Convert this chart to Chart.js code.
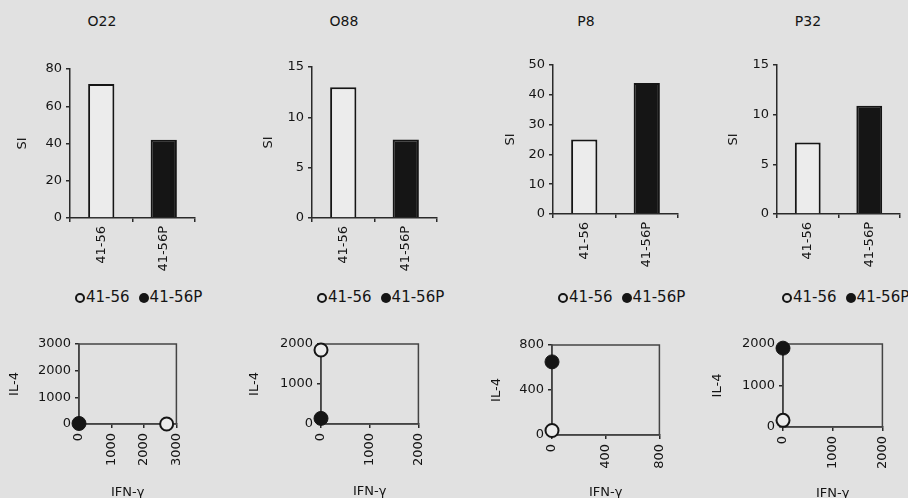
<!DOCTYPE html>
<html>
<head>
<meta charset="utf-8">
<script src="https://cdn.jsdelivr.net/npm/chart.js@4.4.1/dist/chart.umd.min.js"></script>
<style>
  body { margin: 0; width: 908px; height: 498px; background: #e1e1e1; position: relative; overflow: hidden; font-family: 'DejaVu Sans', sans-serif; color: #151515; }
  canvas { position: absolute; }
  .title { position: absolute; font-size: 14px; transform: translate(-50%, -50%); }
  .legend { position: absolute; font-size: 15px; line-height: 18px; white-space: nowrap; }
  .legend-item { display: inline-block; margin-right: 9px; }
  .color-box { display: inline-block; width: 10px; height: 10px; border-radius: 50%; box-sizing: border-box; vertical-align: -1px; margin-right: 1px; }
</style>
</head>
<body>
<script>
// values
const panels = ['O22', 'O88', 'P8', 'P32'];
const categories = ['41-56', '41-56P'];
const si_41_56 = [72, 13, 25, 7.2];
const si_41_56P = [42, 7.8, 44, 10.9];
const siMax = [80, 15, 50, 15];
const siStep = [20, 5, 10, 5];

const ifn_41_56 = [2700, 0, 0, 0];
const il4_41_56 = [0, 1850, 40, 160];
const ifn_41_56P = [0, 0, 0, 0];
const il4_41_56P = [20, 140, 650, 1900];
const cytoMax = [3000, 2000, 800, 2000];
const cytoStep = [1000, 1000, 400, 1000];

const INK = '#151515';
const AXIS = '#2a2a2a';
const OPEN_FILL = '#ececec';

// where each panel sits on the page (chart area edges in px)
const barBoxes = [
  { left: 15,  axis: 70,  top: 69, right: 195, bottom: 218, tx: 102, ty: 21 },
  { left: 261, axis: 312, top: 67, right: 437, bottom: 218, tx: 344, ty: 21 },
  { left: 503, axis: 553, top: 65, right: 678, bottom: 214, tx: 586, ty: 21 },
  { left: 726, axis: 777, top: 65, right: 900, bottom: 214, tx: 808, ty: 21 }
];
const scatterBoxes = [
  { left: 7,   axis: 79,  top: 344, right: 185, bottom: 424, titleY: 492 },
  { left: 247, axis: 321, top: 344, right: 427, bottom: 424, titleY: 491 },
  { left: 489, axis: 552, top: 345, right: 668, bottom: 435, titleY: 492 },
  { left: 710, axis: 783, top: 344, right: 891, bottom: 427, titleY: 493 }
];

Chart.defaults.font.family = "'DejaVu Sans', sans-serif";
Chart.defaults.font.size = 13;
Chart.defaults.color = INK;

const makeCanvas = (left, top, width, height) => {
  const c = document.createElement('canvas');
  c.width = width;
  c.height = height;
  c.style.left = left + 'px';
  c.style.top = top + 'px';
  document.body.appendChild(c);
  return c.getContext('2d');
};

const addDiv = (cls, left, top, html) => {
  const d = document.createElement('div');
  d.className = cls;
  d.style.left = left + 'px';
  d.style.top = top + 'px';
  d.innerHTML = html;
  document.body.appendChild(d);
};

// box round the scatter plot area
const frame = {
  id: 'frame',
  beforeDatasetsDraw(chart) {
    const { ctx, chartArea: a } = chart;
    ctx.save();
    ctx.strokeStyle = '#444';
    ctx.lineWidth = 1.5;
    ctx.strokeRect(a.left, a.top, a.right - a.left, a.bottom - a.top);
    ctx.restore();
  }
};

const tickGrid = { drawOnChartArea: false, tickLength: 4, color: AXIS, lineWidth: 1.5 };
const plain = { useGrouping: false };

panels.forEach((name, i) => {
  const b = barBoxes[i];
  const cTop = b.top - 14;
  const cRight = Math.min(b.right + 10, 908);
  const ctx = makeCanvas(b.left, cTop, cRight - b.left, b.bottom + 60 - cTop);

  new Chart(ctx, {
    type: 'bar',
    data: {
      labels: categories,
      datasets: [{
        data: [si_41_56[i], si_41_56P[i]],
        backgroundColor: [OPEN_FILL, INK],
        borderColor: INK,
        borderWidth: 2,
        barPercentage: 0.42,
        categoryPercentage: 1
      }]
    },
    options: {
      responsive: false,
      animation: false,
      devicePixelRatio: 1,
      layout: { padding: { top: 14, right: cRight - b.right, left: 0, bottom: 0 } },
      plugins: { legend: { display: false }, tooltip: { enabled: false } },
      scales: {
        x: {
          offset: true,
          grid: { ...tickGrid, offset: true },
          border: { color: AXIS, width: 1.5 },
          ticks: { minRotation: 90, maxRotation: 90, padding: 4, autoSkip: false },
          afterFit: s => { s.height = 60; }
        },
        y: {
          min: 0,
          max: siMax[i],
          grid: tickGrid,
          border: { color: AXIS, width: 1.5 },
          ticks: { stepSize: siStep[i], padding: 4, format: plain },
          title: { display: true, text: 'SI', padding: 0 },
          afterFit: s => { s.width = b.axis - b.left; }
        }
      }
    }
  });

  addDiv('title', b.tx, b.ty, name);
  addDiv('legend', b.axis + 5, 288,
    '<span class="legend-item"><span class="color-box" style="border:2px solid ' + INK + '"></span>' + categories[0] + '</span>' +
    '<span class="legend-item"><span class="color-box" style="background:' + INK + '"></span>' + categories[1] + '</span>');

  // cytokine scatter below
  const s = scatterBoxes[i];
  const sTop = s.top - 16;
  const sBottom = s.titleY + 8;
  const sRight = s.right + 12;
  const sctx = makeCanvas(s.left, sTop, sRight - s.left, sBottom - sTop);

  new Chart(sctx, {
    type: 'scatter',
    data: {
      datasets: [
        {
          label: categories[0],
          data: [{ x: ifn_41_56[i], y: il4_41_56[i] }],
          pointRadius: 6.5,
          pointBackgroundColor: OPEN_FILL,
          pointBorderColor: INK,
          pointBorderWidth: 2,
          clip: false
        },
        {
          label: categories[1],
          data: [{ x: ifn_41_56P[i], y: il4_41_56P[i] }],
          pointRadius: 7,
          pointBackgroundColor: INK,
          pointBorderColor: INK,
          pointBorderWidth: 1,
          clip: false
        }
      ]
    },
    options: {
      responsive: false,
      animation: false,
      devicePixelRatio: 1,
      layout: { padding: { top: 16, right: 12, left: 0, bottom: 0 } },
      plugins: { legend: { display: false }, tooltip: { enabled: false } },
      scales: {
        x: {
          min: 0,
          max: cytoMax[i],
          grid: tickGrid,
          border: { color: '#444', width: 1.5 },
          ticks: { stepSize: cytoStep[i], minRotation: 90, maxRotation: 90, padding: 5, format: plain },
          title: { display: true, text: 'IFN-γ', padding: 0 },
          afterFit: sc => { sc.height = sBottom - s.bottom; }
        },
        y: {
          min: 0,
          max: cytoMax[i],
          grid: tickGrid,
          border: { color: '#444', width: 1.5 },
          ticks: { stepSize: cytoStep[i], padding: 4, format: plain },
          title: { display: true, text: 'IL-4', padding: 0 },
          afterFit: sc => { sc.width = s.axis - s.left; }
        }
      }
    },
    plugins: [frame]
  });
});
</script>
</body>
</html>
